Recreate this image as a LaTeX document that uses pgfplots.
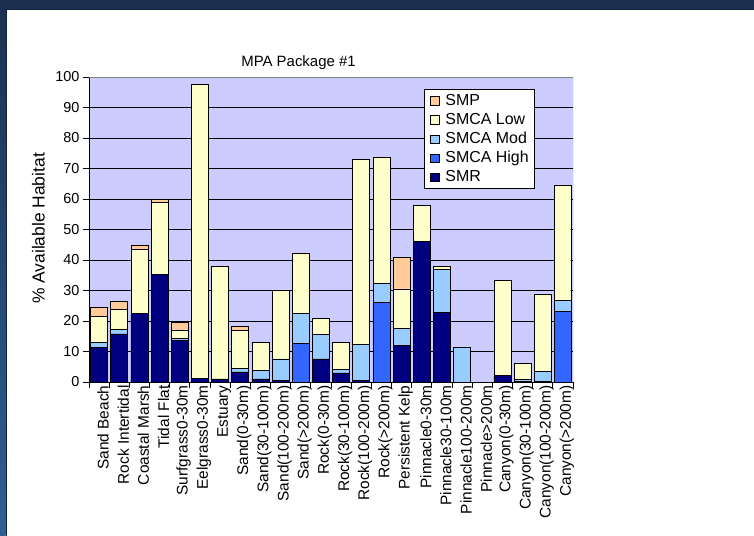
\documentclass[border=0pt]{standalone}
\usepackage{pgfplots}
\pgfplotsset{compat=1.18}
\usepackage{pgfplotstable}
\usepackage{fontspec}
\setmainfont{Liberation Sans}

\definecolor{frame}{RGB}{27,48,80}
\definecolor{framelo}{RGB}{46,95,148}
\definecolor{plotbg}{RGB}{204,204,255}
\definecolor{cSMP}{RGB}{255,204,153}
\definecolor{cLow}{RGB}{255,255,204}
\definecolor{cMod}{RGB}{153,204,255}
\definecolor{cHigh}{RGB}{51,102,255}
\definecolor{cSMR}{RGB}{0,0,128}

% segment heights (not cumulative), one row per habitat
\pgfplotstableread{
x SMR High Mod Low SMP
0  11.3 0    1.8  8.5  2.8
1  15.8 0    1.4  6.5  2.6
2  22.4 0    0    21.2 1.1
3  35.2 0    0    23.8 0.8
4  13.6 0    0.6  2.6  2.7
5  1.3  0    0    96.2 0
6  1.0  0    0    36.8 0
7  3.3  0    1.1  12.4 1.3
8  1.0  0    2.7  9.2  0
9  0.5  0    7.1  22.6 0
10 0    12.6 9.8  19.8 0
11 7.6  0    8.1  5.1  0
12 3.0  0    1.2  8.7  0
13 0.4  0    11.8 60.7 0
14 0    26.0 6.2  41.4 0
15 12.0 0    5.5  13.0 10.3
16 46.0 0    0    11.8 0
17 22.7 0    14.3 1.0  0
18 0    0    11.4 0    0
19 0    0    0    0    0
20 2.1  0    0    31.1 0
21 0.3  0    0.5  5.2  0
22 0.3  0    3.1  25.2 0
23 0    23.1 3.6  37.9 0
}\habitat

\begin{document}
\begin{tikzpicture}
\useasboundingbox (0,0) rectangle (754bp,536bp);
\fill[white] (0,0) rectangle (754bp,536bp);
% window frame
\shade[top color=frame, bottom color=framelo] (0,0) rectangle (5.5bp,536bp);
\fill[frame!70!black] (5.5bp,0) rectangle (7bp,527bp);
\fill[frame] (0,527bp) rectangle (754bp,536bp);
\fill[frame!70!black] (7bp,526bp) rectangle (754bp,527bp);

\begin{axis}[
  at={(89bp,154bp)}, anchor=south west,
  width=484bp, height=305bp, scale only axis,
  ybar stacked, bar width=0.84,
  xmin=-0.5, xmax=23.5, ymin=0, ymax=100,
  ytick={0,10,...,100},
  xtick={-0.5,0.5,...,23.5}, xticklabels={},
  extra x ticks={0,...,23},
  extra x tick labels={Sand Beach,Rock Intertidal,Coastal Marsh,Tidal Flat,Surfgrass0-30m,Eelgrass0-30m,Estuary,Sand(0-30m),Sand(30-100m),Sand(100-200m),Sand(>200m),Rock(0-30m),Rock(30-100m),Rock(100-200m),Rock(>200m),Persistent Kelp,Pinnacle0-30m,Pinnacle30-100m,Pinnacle100-200m,Pinnacle>200m,Canyon(0-30m),Canyon(30-100m),Canyon(100-200m),Canyon(>200m)},
  extra x tick style={major tick length=0pt, xmajorgrids=false,
    tick label style={rotate=90, anchor=east, font=\fontsize{15.5}{17}\selectfont, yshift=-4bp}},
  axis x line*=bottom, axis y line*=left,
  axis line style={black, line width=0.8bp},
  tick align=outside, major tick length=6bp,
  tick style={black, line width=0.8bp},
  ymajorgrids, grid style={black, line width=0.8bp},
  axis background/.style={fill=plotbg},
  /pgf/number format/assume math mode=true,
  y tick label style={font=\fontsize{14.5}{16}\selectfont},
  every axis plot/.append style={draw=black, line width=0.6bp},
  reverse legend,
  legend style={at={(0.692,0.961)}, anchor=north west, draw=black, fill=white,
    line width=0.8bp, font=\fontsize{16}{18}\selectfont, inner xsep=3bp, inner ysep=2bp,
    row sep=0pt, nodes={inner xsep=2.5bp, inner ysep=2.3bp, text height=11.5bp, text depth=3bp}},
  legend cell align=left,
  legend image code/.code={\path (0bp,0bp) (15bp,0bp);
    \draw[#1, line width=0.6bp] (3bp,-4.2bp) rectangle (11.4bp,4.2bp);},
]
\addplot[fill=cSMR] table[x=x,y=SMR] {\habitat};
\addplot[fill=cHigh] table[x=x,y=High] {\habitat};
\addplot[fill=cMod] table[x=x,y=Mod] {\habitat};
\addplot[fill=cLow] table[x=x,y=Low] {\habitat};
\addplot[fill=cSMP] table[x=x,y=SMP] {\habitat};
\legend{SMR,SMCA High,SMCA Mod,SMCA Low,SMP}
\draw[gray, line width=0.8bp] (rel axis cs:0,1) -- (rel axis cs:1,1) -- (rel axis cs:1,0);
\end{axis}

\node[font=\fontsize{15}{17}\selectfont] at (298.5bp,473bp) {MPA Package \#1};
\node[font=\fontsize{17.5}{19}\selectfont, rotate=90] at (38.5bp,307.5bp) {\% Available Habitat};
\end{tikzpicture}
\end{document}
